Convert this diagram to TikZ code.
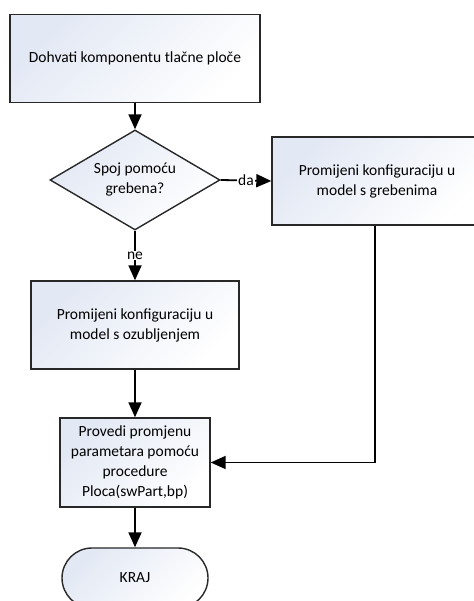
\documentclass[tikz,border=0pt]{standalone}
\usepackage{fontspec}
\setmainfont{Carlito}
\usetikzlibrary{shapes.geometric,arrows.meta}
\definecolor{boxfill}{RGB}{226,232,244}
\definecolor{boxline}{RGB}{40,40,40}

\begin{document}
\begin{tikzpicture}[x=1pt, y=1pt,
  font=\fontsize{15.5}{20}\selectfont,
  shade/.style={top color=boxfill, bottom color=white, shading angle=45},
  stepbox/.style={shade, draw=boxline, line width=1.4pt, align=center, inner sep=4pt},
  decision/.style={shade, draw=boxline, line width=1.4pt, diamond, aspect=1.7,
    inner sep=0pt, align=center, minimum width=170, minimum height=100},
  endbox/.style={shade, draw=boxline, line width=1.4pt, rounded corners=30,
    minimum width=146, minimum height=60},
  flow/.style={line width=1.8pt, -{Triangle[length=15pt, width=13pt]}},
  lbl/.style={fill=white, inner sep=1pt}]
\useasboundingbox (0,0) rectangle (473,601);

\node[stepbox, minimum width=250, minimum height=88] (dohvati) at (135,542.5)
  {Dohvati komponentu tlačne ploče};
\node[decision] (spoj) at (135,421) {Spoj pomoću\\grebena?};
\node[stepbox, minimum width=210, minimum height=88] (grebeni) at (377,420)
  {Promijeni konfiguraciju u\\model s grebenima};
\node[stepbox, minimum width=208, minimum height=88] (ozub) at (135,276)
  {Promijeni konfiguraciju u\\model s ozubljenjem};
\node[stepbox, minimum width=150, minimum height=89] (provedi) at (135,138.5)
  {Provedi promjenu\\parametara pomoću\\procedure\\Ploca(swPart,bp)};
\node[endbox] (kraj) at (135,23) {KRAJ};

\draw[flow] (dohvati) -- (spoj);
\draw[flow] (spoj.east) -- node[lbl] {da} (grebeni.west);
\draw[flow] (spoj.south) -- node[lbl] {ne} (ozub.north);
\draw[flow] (ozub) -- (provedi);
\draw[flow] (grebeni.south -| 375,0) |- (provedi.east);
\draw[flow] (provedi) -- (kraj);
\end{tikzpicture}
\end{document}
